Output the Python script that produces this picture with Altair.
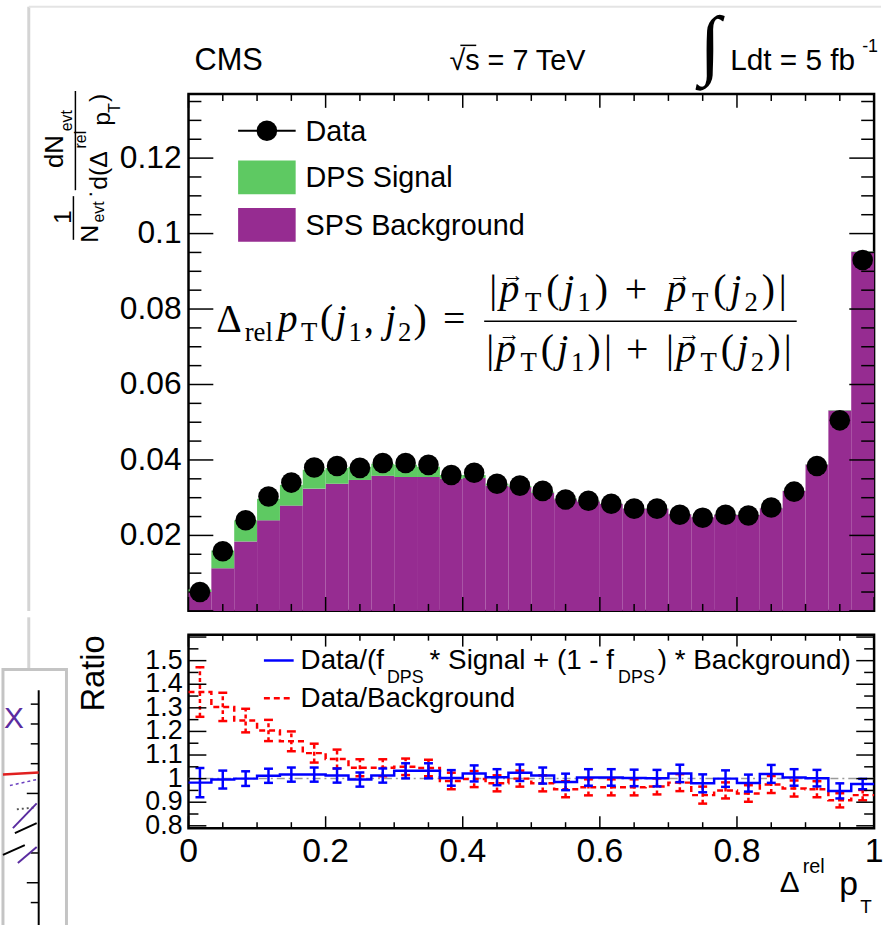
import altair as alt
import pandas as pd

# ---------------- data ----------------
n_bins = 30
data_vals = [0.0050, 0.0158, 0.0240, 0.0303, 0.0340, 0.0380, 0.0384, 0.0379, 0.0392, 0.0392,
             0.0387, 0.0360, 0.0366, 0.0337, 0.0332, 0.0318, 0.0295, 0.0292, 0.0284, 0.0271,
             0.0271, 0.0255, 0.0247, 0.0255, 0.0253, 0.0274, 0.0316, 0.0384, 0.0505, 0.0930]
sps_bkg = [0.0050, 0.0113, 0.0184, 0.0240, 0.0279, 0.0324, 0.0337, 0.0347, 0.0358, 0.0355,
           0.0355, 0.0350, 0.0352, 0.0332, 0.0328, 0.0313, 0.0296, 0.0290, 0.0283, 0.0271,
           0.0271, 0.0256, 0.0248, 0.0255, 0.0254, 0.0272, 0.0318, 0.0388, 0.0531, 0.0952]
dps_sig = [0.0007, 0.0047, 0.0056, 0.0057, 0.0055, 0.0050, 0.0042, 0.0035, 0.0032, 0.0032,
           0.0027, 0.0010, 0.0008, 0.0005, 0.0003, 0.0003, 0.0002, 0.0002, 0.0001, 0.0001,
           0.0001, 0.0001, 0.0001, 0.0001, 0.0001, 0.0001, 0.0001, 0.0001, 0.0001, 0.0001]

ratio_fit = [0.983, 0.996, 1.000, 1.012, 1.017, 1.017, 1.013, 0.996, 1.013, 1.033,
             1.033, 1.003, 1.022, 1.006, 1.025, 1.013, 0.986, 1.005, 1.005, 1.003,
             1.002, 1.022, 0.980, 1.000, 0.981, 1.020, 1.005, 1.002, 0.948, 0.977]
ratio_fit_err = [0.062, 0.038, 0.031, 0.030, 0.030, 0.030, 0.030, 0.030, 0.030, 0.032,
                 0.032, 0.033, 0.034, 0.034, 0.035, 0.034, 0.035, 0.035, 0.035, 0.035,
                 0.035, 0.037, 0.038, 0.035, 0.036, 0.038, 0.035, 0.035, 0.032, 0.022]
ratio_bkg = [1.367, 1.304, 1.246, 1.204, 1.158, 1.108, 1.083, 1.046, 1.046, 1.050,
             1.045, 0.990, 0.998, 0.980, 1.000, 0.980, 0.955, 0.963, 0.963, 0.963,
             0.967, 0.983, 0.930, 0.950, 0.937, 0.975, 0.958, 0.955, 0.908, 0.930]
ratio_bkg_err = [0.105, 0.060, 0.050, 0.045, 0.042, 0.040, 0.040, 0.036, 0.036, 0.035,
                 0.035, 0.035, 0.034, 0.034, 0.034, 0.034, 0.034, 0.034, 0.034, 0.034,
                 0.034, 0.036, 0.036, 0.034, 0.035, 0.036, 0.034, 0.034, 0.030, 0.022]

main_y_labels = [0.02, 0.04, 0.06, 0.08, 0.1, 0.12]
main_y_label_text = ["0.02", "0.04", "0.06", "0.08", "0.1", "0.12"]
ratio_y_labels = [0.8, 0.9, 1.0, 1.1, 1.2, 1.3, 1.4, 1.5]
ratio_y_label_text = ["0.8", "0.9", "1", "1.1", "1.2", "1.3", "1.4", "1.5"]
x_labels = [0, 0.2, 0.4, 0.6, 0.8, 1]
x_label_text = ["0", "0.2", "0.4", "0.6", "0.8", "1"]
x_major_ticks = [0.0, 0.2, 0.4, 0.6, 0.8, 1.0]
x_minor_ticks = [0.05, 0.1, 0.15, 0.25, 0.3, 0.35, 0.45, 0.5, 0.55, 0.65, 0.7, 0.75,
                 0.85, 0.9, 0.95]
main_y_major = [0.0, 0.02, 0.04, 0.06, 0.08, 0.1, 0.12]
main_y_minor = [0.005, 0.01, 0.015, 0.025, 0.03, 0.035, 0.045, 0.05, 0.055, 0.065, 0.07,
                0.075, 0.085, 0.09, 0.095, 0.105, 0.11, 0.115, 0.125, 0.13, 0.135]
ratio_y_major = [0.8, 0.9, 1.0, 1.1, 1.2, 1.3, 1.4, 1.5, 1.6]
ratio_y_minor = [0.85, 0.95, 1.05, 1.15, 1.25, 1.35, 1.45, 1.55]

# ---------------- tables ----------------
lo = [i / n_bins for i in range(n_bins)]
hi = [(i + 1) / n_bins for i in range(n_bins)]
mid = [(a + b) / 2 for a, b in zip(lo, hi)]

main_df = pd.DataFrame({"lo": lo, "hi": hi, "mid": mid, "data": data_vals,
                        "bkg": sps_bkg, "sig": dps_sig})
main_df["zero"] = 0.0
main_df["tot"] = main_df["bkg"] + main_df["sig"]

step_df = pd.DataFrame({"x": lo + [1.0],
                        "fit": ratio_fit + [ratio_fit[-1]],
                        "bkg": ratio_bkg + [ratio_bkg[-1]]})
err_df = pd.DataFrame({"mid": mid,
                       "fit_lo": [v - e for v, e in zip(ratio_fit, ratio_fit_err)],
                       "fit_hi": [v + e for v, e in zip(ratio_fit, ratio_fit_err)],
                       "bkg_lo": [v - e for v, e in zip(ratio_bkg, ratio_bkg_err)],
                       "bkg_hi": [v + e for v, e in zip(ratio_bkg, ratio_bkg_err)]})

# ---------------- style ----------------
W, H1, H2 = 691, 521, 195
PURPLE = "#962c91"
GREEN = "#5ec962"
BLUE = "#0000ff"
RED = "#ff0000"
SANS = "Liberation Sans"
SERIF = "Liberation Serif"

xs = alt.Scale(domain=[0, 1], nice=False, zero=False)
ys1 = alt.Scale(domain=[0, 0.137], nice=False, zero=False)
ys2 = alt.Scale(domain=[0.79, 1.61], nice=False, zero=False)

one = pd.DataFrame({"a": [0]})


def txt(s, x, y, size, font=SANS, align="left", baseline="middle", angle=0,
        style="normal", color="black"):
    kw = dict(text=s, font=font, fontSize=size, align=align, baseline=baseline,
              color=color, fontStyle=style)
    if angle:
        kw["angle"] = angle
    return alt.Chart(one).mark_text(**kw).encode(x=alt.value(x), y=alt.value(y))


def seg(x0, y0, x1, y1, color="black", width=2, dash=None):
    kw = dict(color=color, strokeWidth=width)
    if dash:
        kw["strokeDash"] = dash
    return alt.Chart(one).mark_rule(**kw).encode(
        x=alt.value(x0), y=alt.value(y0), x2=alt.value(x1), y2=alt.value(y1))


def box(x0, y0, x1, y1, fill, stroke=None, sw=0):
    kw = dict(fill=fill)
    if stroke:
        kw["stroke"] = stroke
        kw["strokeWidth"] = sw
    return alt.Chart(one).mark_rect(**kw).encode(
        x=alt.value(x0), y=alt.value(y0), x2=alt.value(x1), y2=alt.value(y1))


def yticks(vals, scale, x0, x1):
    return alt.Chart(pd.DataFrame({"v": vals})).mark_rule(color="black", strokeWidth=1.5).encode(
        y=alt.Y("v:Q", scale=scale, axis=None), x=alt.value(x0), x2=alt.value(x1))


def xticks(vals, y0, y1):
    return alt.Chart(pd.DataFrame({"v": vals})).mark_rule(color="black", strokeWidth=1.5).encode(
        x=alt.X("v:Q", scale=xs, axis=None), y=alt.value(y0), y2=alt.value(y1))


def ylabels(vals, texts, scale, size, pad):
    df = pd.DataFrame({"v": vals, "t": texts})
    return alt.Chart(df).mark_text(align="right", baseline="middle", font=SANS,
                                   fontSize=size, color="black").encode(
        y=alt.Y("v:Q", scale=scale, axis=None), x=alt.value(-pad), text="t:N")


def xlabels(vals, texts, y, size):
    df = pd.DataFrame({"v": vals, "t": texts})
    return alt.Chart(df).mark_text(align="center", baseline="top", font=SANS,
                                   fontSize=size, color="black").encode(
        x=alt.X("v:Q", scale=xs, axis=None), y=alt.value(y), text="t:N")


# formula layout (positions only)
TW = {"|": 0.2, "(": 0.333, ")": 0.333, "+": 0.564, "=": 0.564, ",": 0.25,
      "1": 0.5, "2": 0.5, "Δ": 0.612, "r": 0.333, "e": 0.444, "l": 0.278, "T": 0.611,
      "p": 0.5, "j": 0.278}


def run_w(s, k, F, S):
    if k == "g":
        return float(s) * F
    size = S if k == "s" else F
    return sum(TW.get(c, 0.5) for c in s) * size


def formula(runs, x0, x1, base, F=40, S=27):
    pos, cur = [], 0.0
    for s, k in runs:
        pos.append(cur)
        cur += run_w(s, k, F, S)
    last_w = run_w(runs[-1][0], runs[-1][1], F, S)
    stretch = (x1 - x0 - last_w) / (cur - last_w)
    out = []
    for (s, k), p in zip(runs, pos):
        x = x0 + p * stretch
        if k == "g":
            continue
        if k == "s":
            out.append(txt(s, x, base + 9, S, font=SERIF, baseline="alphabetic"))
        elif k in ("i", "v"):
            out.append(txt(s, x, base, F, font=SERIF, baseline="alphabetic", style="italic"))
            if k == "v":
                out.append(txt("→", x + 0.34 * F, base - 0.52 * F, 22, font=SERIF,
                               align="center", baseline="alphabetic"))
        else:
            out.append(txt(s, x, base, F, font=SERIF, baseline="alphabetic"))
    return out


# ---------------- main panel ----------------
purple = alt.Chart(main_df).mark_rect(color=PURPLE).encode(
    x=alt.X("lo:Q", scale=xs, axis=None), x2="hi",
    y=alt.Y("bkg:Q", scale=ys1, axis=None), y2="zero")
green = alt.Chart(main_df).mark_rect(color=GREEN).encode(
    x=alt.X("lo:Q", scale=xs, axis=None), x2="hi",
    y=alt.Y("tot:Q", scale=ys1, axis=None), y2="bkg")
points = alt.Chart(main_df).mark_circle(size=430, color="black", opacity=1).encode(
    x=alt.X("mid:Q", scale=xs, axis=None), y=alt.Y("data:Q", scale=ys1, axis=None))

main_layers = [
    seg(-187, -88, -186, -88, color="white", width=1),          # layout anchor
    seg(-161, -88, -161, H1, color="#d4d4d4", width=3),          # screenshot border
    seg(-161, -88, 698, -88, color="#e4e4e4", width=2),
    purple, green,
    yticks(main_y_major, ys1, 0, 25), yticks(main_y_minor, ys1, 0, 13),
    yticks(main_y_major, ys1, W, W - 25), yticks(main_y_minor, ys1, W, W - 13),
    xticks(x_major_ticks, 0, 14), xticks(x_minor_ticks, 0, 7),
    xticks(x_major_ticks, H1, H1 - 14), xticks(x_minor_ticks, H1, H1 - 7),
    points,
    ylabels(main_y_labels, main_y_label_text, ys1, 32, 7),
    # legend
    seg(50, 37, 108, 37, width=2),
    alt.Chart(one).mark_circle(size=430, color="black", opacity=1).encode(
        x=alt.value(79), y=alt.value(37)),
    txt("Data", 118, 38, 29),
    box(50, 67, 108, 101, GREEN),
    txt("DPS Signal", 118, 85, 29),
    box(50, 115, 108, 149, PURPLE),
    txt("SPS Background", 118, 133, 29),
    # header
    txt("CMS", 6, -33, 31),
    txt("√s = 7 TeV", 263, -33, 29),
    seg(274, -49, 290, -49, width=1.5),
    txt("∫", 526, -47, 78, font=SERIF, align="center"),
    txt("Ldt = 5 fb", 546, -33, 30),
    txt("-1", 679, -47, 18),
    # y title (rotated fraction)
    txt("1", -126, 124, 25, angle=270, align="center"),
    seg(-116, 103, -116, 147, width=1.5),
    txt("N", -99, 141, 25, angle=270, align="center"),
    txt("evt", -90, 119, 16, angle=270, align="center"),
    txt(".", -104, 101, 22, angle=270, align="center"),
    txt("dN", -134, 58, 26, angle=270, align="center"),
    txt("evt", -122, 27, 16, angle=270, align="center"),
    seg(-114, -3, -114, 97, width=1.5),
    txt("d(Δ", -90, 77, 25, angle=270, align="center"),
    txt("rel", -108, 46, 16, angle=270, align="center"),
    txt("p", -87, 25, 25, angle=270, align="center"),
    txt("T", -74, 14, 16, angle=270, align="center"),
    txt(")", -90, 4, 25, angle=270, align="center"),
    # formula fraction bar
    seg(298, 229, 613, 229, width=1.5),
]

left_runs = [("Δ", "n"), ("rel", "s"), ("p", "i"), ("T", "s"), ("(", "n"), ("j", "i"),
             ("1", "s"), (",", "n"), ("0.2", "g"), ("j", "i"), ("2", "s"), (")", "n"),
             ("0.3", "g"), ("=", "n")]
num_runs = [("|", "n"), ("p", "v"), ("T", "s"), ("(", "n"), ("j", "i"), ("1", "s"),
            (")", "n"), ("0.25", "g"), ("+", "n"), ("0.25", "g"), ("p", "v"), ("T", "s"),
            ("(", "n"), ("j", "i"), ("2", "s"), (")", "n"), ("|", "n")]
den_runs = [("|", "n"), ("p", "v"), ("T", "s"), ("(", "n"), ("j", "i"), ("1", "s"),
            (")", "n"), ("|", "n"), ("0.25", "g"), ("+", "n"), ("0.25", "g"), ("|", "n"),
            ("p", "v"), ("T", "s"), ("(", "n"), ("j", "i"), ("2", "s"), (")", "n"),
            ("|", "n")]
main_layers += formula(left_runs, 28, 279, 240)
main_layers += formula(num_runs, 303, 603, 210)
main_layers += formula(den_runs, 300, 608, 270)

main = alt.layer(*main_layers).properties(width=W, height=H1)

# ---------------- ratio panel ----------------
ref = alt.Chart(pd.DataFrame({"v": [1.0]})).mark_rule(
    color="#9a9a9a", strokeWidth=1.5, strokeDash=[8, 4, 2, 4]).encode(
    y=alt.Y("v:Q", scale=ys2, axis=None))

blue_line = alt.Chart(step_df).mark_line(interpolate="step-after", color=BLUE,
                                         strokeWidth=2.5).encode(
    x=alt.X("x:Q", scale=xs, axis=None), y=alt.Y("fit:Q", scale=ys2, axis=None))
red_line = alt.Chart(step_df).mark_line(interpolate="step-after", color=RED,
                                        strokeWidth=2.5, strokeDash=[6, 4]).encode(
    x=alt.X("x:Q", scale=xs, axis=None), y=alt.Y("bkg:Q", scale=ys2, axis=None))

errbase = alt.Chart(err_df)


def err_layers(col_lo, col_hi, color, dash=None):
    kw = dict(color=color, strokeWidth=2.5)
    if dash:
        kw["strokeDash"] = dash
    bar = errbase.mark_rule(**kw).encode(
        x=alt.X("mid:Q", scale=xs, axis=None),
        y=alt.Y(f"{col_lo}:Q", scale=ys2, axis=None), y2=f"{col_hi}")
    caps = []
    for c in (col_lo, col_hi):
        caps.append(errbase.mark_rule(color=color, strokeWidth=2.5, xOffset=-4.5,
                                      x2Offset=4.5).encode(
            x=alt.X("mid:Q", scale=xs, axis=None), x2="mid",
            y=alt.Y(f"{c}:Q", scale=ys2, axis=None)))
    return [bar] + caps


lower_layers = [
    seg(-187, 0, -186, 0, color="white", width=1),               # layout anchor
    seg(-161, -17.5, -161, 40, color="#d4d4d4", width=3),         # border continues
    # fragment of a neighbouring figure (screenshot artefact)
    box(-187, 35, -123, 300, "white", stroke="#c4c4c4", sw=3),
    seg(-151, 56, -151, 300, width=2),
    seg(-159, 70, -151, 70, width=1.5), seg(-159, 90, -151, 90, width=1.5),
    seg(-159, 110, -151, 110, width=1.5), seg(-159, 130, -151, 130, width=1.5),
    seg(-163, 160, -151, 160, width=1.5), seg(-159, 220, -151, 220, width=1.5),
    seg(-163, 250, -151, 250, width=1.5), seg(-159, 270, -151, 270, width=1.5),
    seg(-187, 141, -151, 139, color="#e02020", width=2.5),
    seg(-180, 152, -153, 146, color="#6a40c0", width=1.5, dash=[3, 3]),
    seg(-173, 176, -153, 174, color="#555555", width=2, dash=[2, 3]),
    seg(-177, 195, -153, 170, color="#5a2ca0", width=2),
    seg(-175, 200, -153, 190, color="black", width=2),
    seg(-187, 222, -165, 212, color="black", width=2),
    seg(-172, 230, -153, 214, color="#5a2ca0", width=2),
    txt("X", -186, 85, 30, color="#5a2ca0"),
    ref, red_line,
] + err_layers("bkg_lo", "bkg_hi", RED, dash=[4, 3]) + [blue_line] + \
    err_layers("fit_lo", "fit_hi", BLUE) + [
    yticks(ratio_y_major, ys2, 0, 18), yticks(ratio_y_minor, ys2, 0, 10),
    yticks(ratio_y_major, ys2, W, W - 18), yticks(ratio_y_minor, ys2, W, W - 10),
    xticks(x_major_ticks, H2, H2 - 12), xticks(x_minor_ticks, H2, H2 - 6),
    xticks(x_major_ticks, 0, 12), xticks(x_minor_ticks, 0, 6),
    ylabels(ratio_y_labels, ratio_y_label_text, ys2, 27, 6),
    xlabels(x_labels, x_label_text, H2 + 7, 34),
    # legend
    seg(76, 26, 106, 26, color=BLUE, width=2.5),
    txt("Data/(f", 113, 27, 28),
    txt("DPS", 200, 44, 18),
    txt("* Signal + (1 - f", 243, 27, 28),
    txt("DPS", 433, 44, 18),
    txt(") * Background)", 473, 27, 28),
    seg(76, 64, 106, 64, color=RED, width=2.5, dash=[6, 4]),
    txt("Data/Background", 113, 65, 28),
    # axis titles
    txt("Ratio", -95, 39, 33, angle=270, align="center"),
    txt("Δ", 596, 259, 30, baseline="alphabetic"),
    txt("rel", 619, 240, 20, baseline="alphabetic"),
    txt("p", 656, 262, 34, baseline="alphabetic"),
    txt("T", 677, 281, 19, baseline="alphabetic"),
]
lower = alt.layer(*lower_layers).properties(width=W, height=H2)

chart = alt.vconcat(main, lower, spacing=0).properties(
    padding=0, background="white"
).configure_view(stroke="black", strokeWidth=2.5)

chart.save("out.html", embed_options={"renderer": "svg", "actions": False})
